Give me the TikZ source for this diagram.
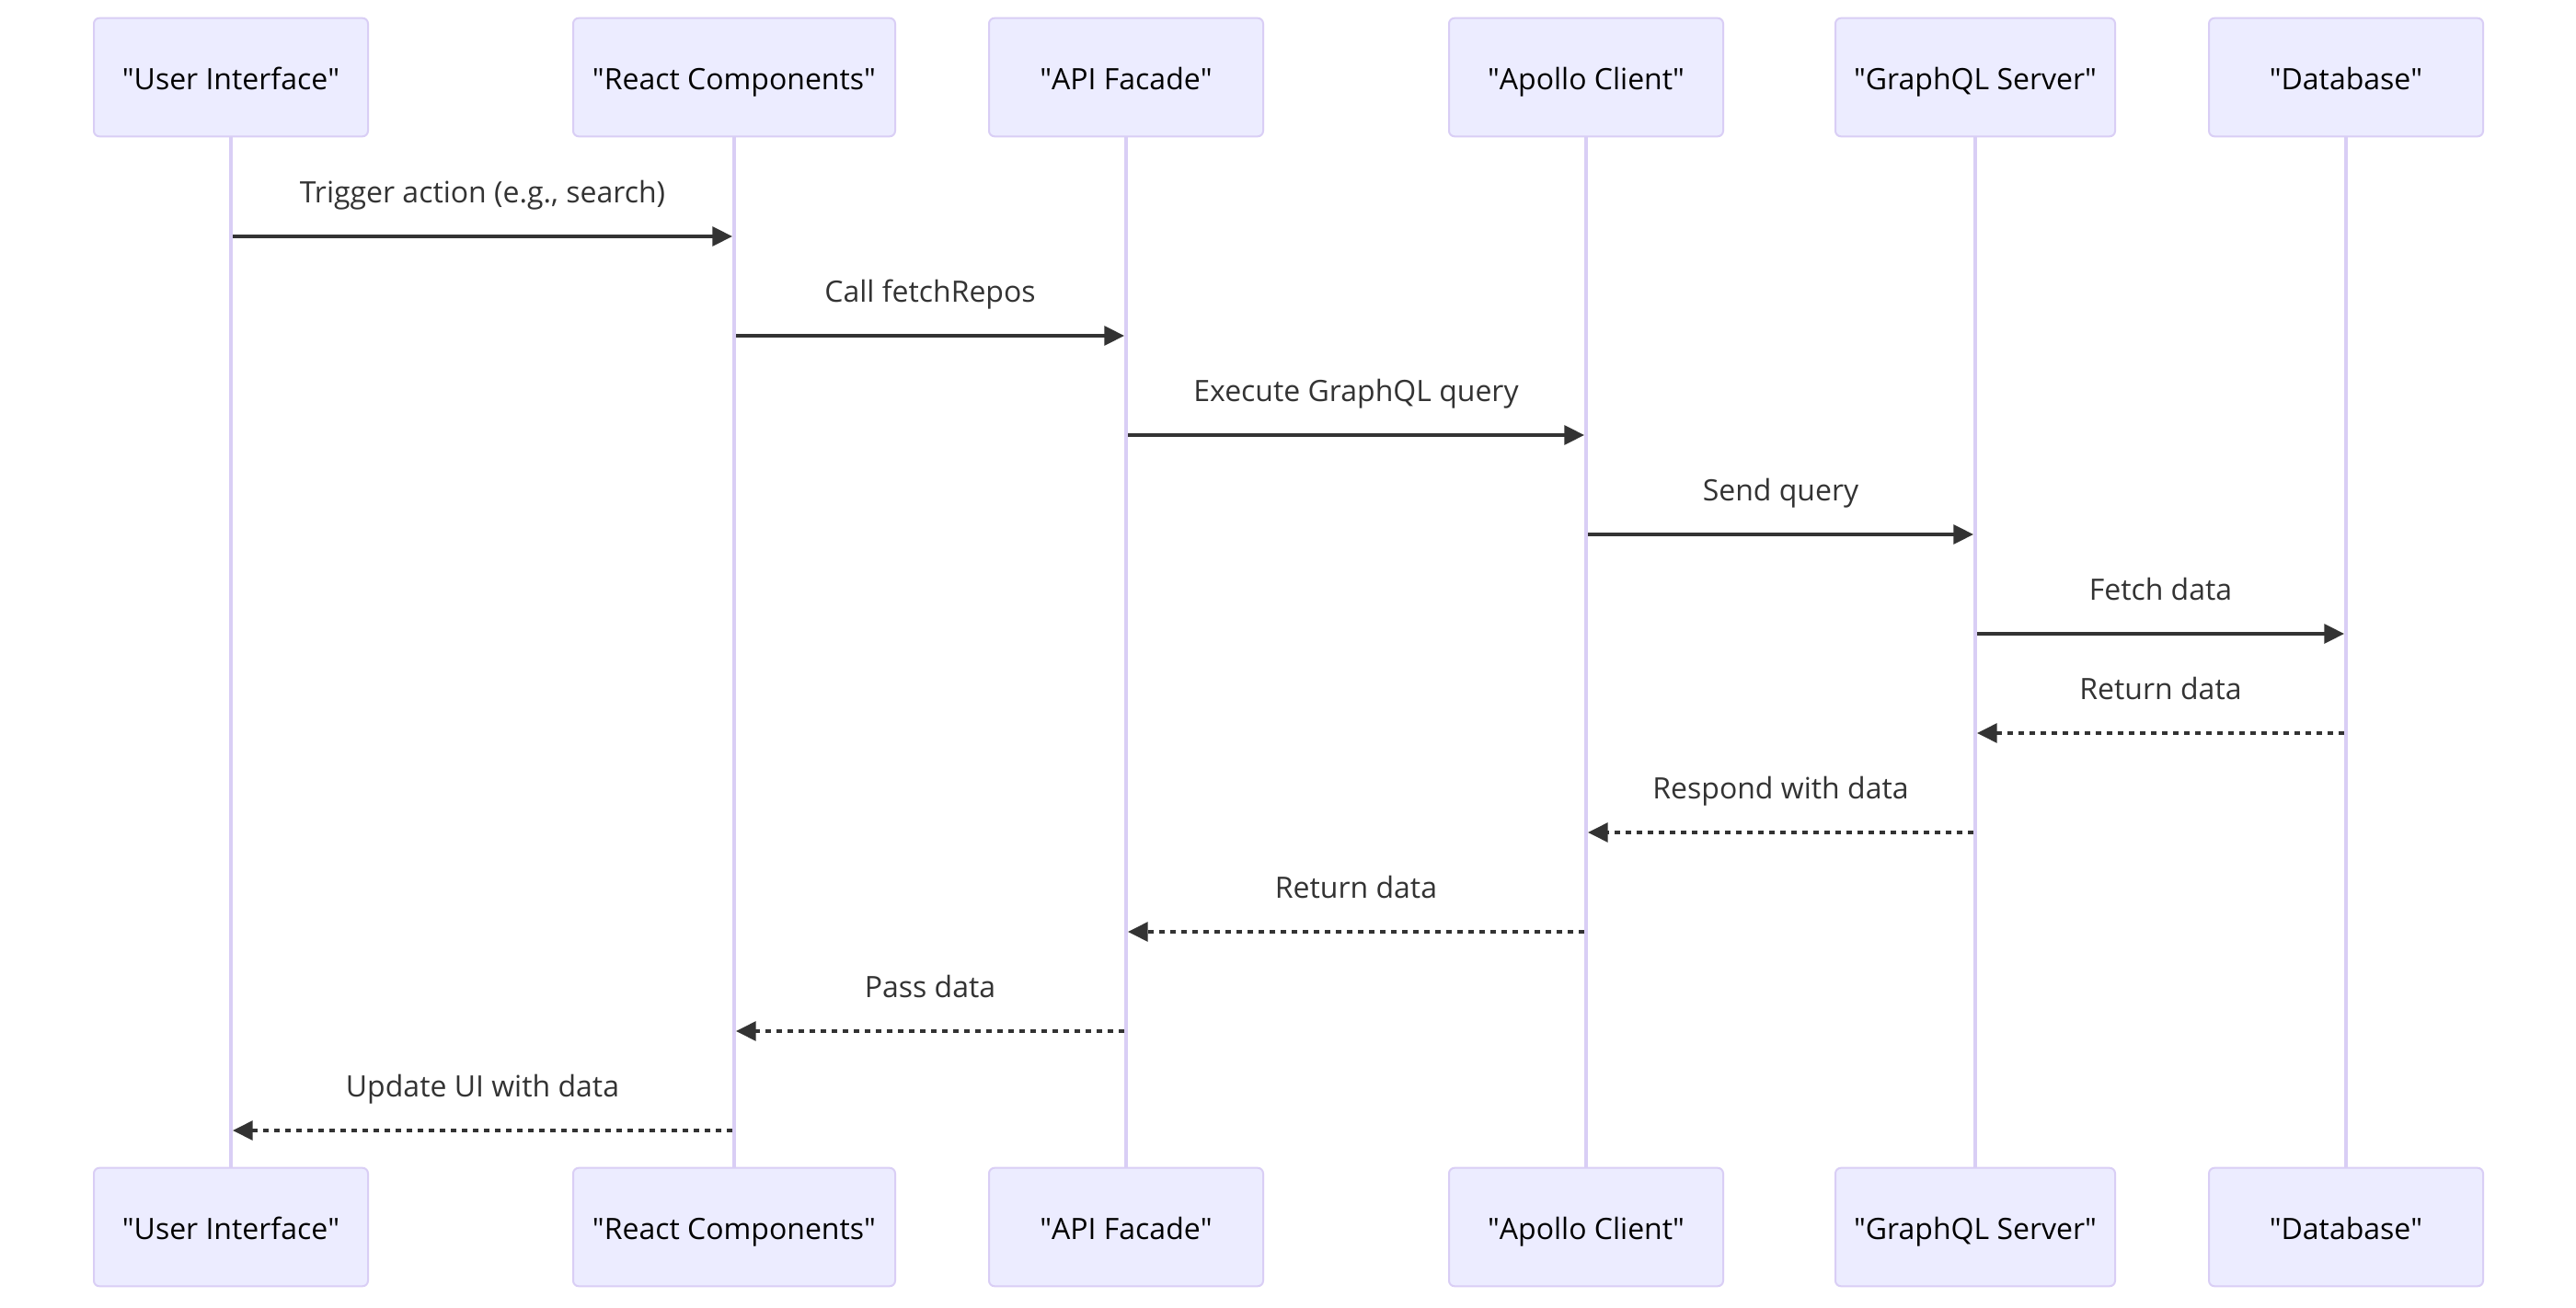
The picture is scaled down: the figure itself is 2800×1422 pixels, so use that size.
\documentclass[tikz,border=0pt]{standalone}
\usepackage{fontspec}
\setmainfont{Open Sans}
\usetikzlibrary{arrows.meta}
\definecolor{actfill}{HTML}{ECECFF}
\definecolor{actline}{HTML}{D9CEF5}
\definecolor{msgcol}{HTML}{333333}
\newcommand{\qq}[1]{\textquotedbl#1\textquotedbl}
\begin{document}
\begin{tikzpicture}[x=0.5pt,y=-0.5pt,
 actor/.style={draw=actline, fill=actfill, line width=1pt, rounded corners=3pt, minimum height=64.3pt, text height=13.5pt, text depth=0pt, inner sep=0pt, font=\fontsize{16}{19}\selectfont, text=black},
 life/.style={draw=actline, line width=1.8pt},
 msg/.style={draw=msgcol, line width=1.8pt, -{Triangle[length=10.8pt,width=10.4pt]}, shorten >=1pt, shorten <=1pt},
 reply/.style={msg, dash pattern=on 3pt off 3pt, line width=1.6pt},
 lbl/.style={midway, anchor=base, yshift=18.2pt, text=msgcol, font=\fontsize{16}{19}\selectfont}]
\useasboundingbox (0,0) rectangle (2800,1422);
\fill[white] (0,0) rectangle (2800,1422);
% top actors
\node[actor, minimum width=149pt] (t1) at (251,84) {\qq{User Interface}};
\node[actor, minimum width=175pt] (t2) at (798,84) {\qq{React Components}};
\node[actor, minimum width=149pt] (t3) at (1224,84) {\qq{API Facade}};
\node[actor, minimum width=149pt] (t4) at (1724,84) {\qq{Apollo Client}};
\node[actor, minimum width=152pt] (t5) at (2147,84) {\qq{GraphQL Server}};
\node[actor, minimum width=149pt] (t6) at (2550,84) {\qq{Database}};
% bottom actors
\node[actor, minimum width=149pt] (b1) at (251,1334) {\qq{User Interface}};
\node[actor, minimum width=175pt] (b2) at (798,1334) {\qq{React Components}};
\node[actor, minimum width=149pt] (b3) at (1224,1334) {\qq{API Facade}};
\node[actor, minimum width=149pt] (b4) at (1724,1334) {\qq{Apollo Client}};
\node[actor, minimum width=152pt] (b5) at (2147,1334) {\qq{GraphQL Server}};
\node[actor, minimum width=149pt] (b6) at (2550,1334) {\qq{Database}};
% lifelines
\foreach \i in {1,...,6}{\draw[life] (t\i.south) -- (b\i.north);}
% messages
\draw[msg] (t1.south |- 0,257) -- (t2.south |- 0,257) node[lbl]{Trigger action (e.g., search)};
\draw[msg] (t2.south |- 0,365) -- (t3.south |- 0,365) node[lbl]{Call fetchRepos};
\draw[msg] (t3.south |- 0,473) -- (t4.south |- 0,473) node[lbl]{Execute GraphQL query};
\draw[msg] (t4.south |- 0,581) -- (t5.south |- 0,581) node[lbl]{Send query};
\draw[msg] (t5.south |- 0,689) -- (t6.south |- 0,689) node[lbl]{Fetch data};
\draw[reply] (t6.south |- 0,797) -- (t5.south |- 0,797) node[lbl]{Return data};
\draw[reply] (t5.south |- 0,905) -- (t4.south |- 0,905) node[lbl]{Respond with data};
\draw[reply] (t4.south |- 0,1013) -- (t3.south |- 0,1013) node[lbl]{Return data};
\draw[reply] (t3.south |- 0,1121) -- (t2.south |- 0,1121) node[lbl]{Pass data};
\draw[reply] (t2.south |- 0,1229) -- (t1.south |- 0,1229) node[lbl]{Update UI with data};
\end{tikzpicture}
\end{document}
